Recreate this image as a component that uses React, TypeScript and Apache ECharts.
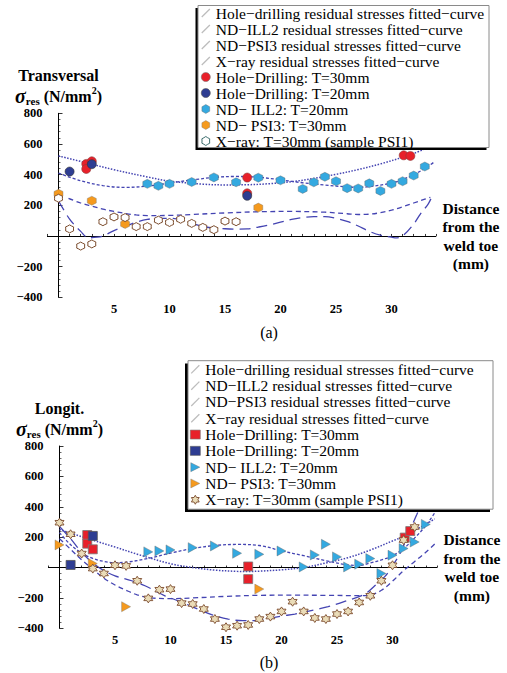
import React, { useEffect, useRef } from 'react';
import * as echarts from 'echarts';

const SERIF = 'Liberation Serif';
const CURVE = '#4444b2';
const RED = '#e8202a';
const NAVY = '#2e3d92';
const CYAN = '#34a9e0';
const ORANGE = '#f59a1e';
const BROWN = '#7a4a2a';
const STARFILL = '#eadcb8';

const N_HD_FIT = 'Hole−drilling residual stresses fitted−curve';
const N_ILL2_FIT = 'ND−ILL2 residual stresses fitted−curve';
const N_PSI3_FIT = 'ND−PSI3 residual stresses fitted−curve';
const N_XRAY_FIT = 'X−ray residual stresses fitted−curve';
const N_HD30 = 'Hole−Drilling: T=30mm';
const N_HD20 = 'Hole−Drilling: T=20mm';
const N_ILL2 = 'ND− ILL2: T=20mm';
const N_PSI3 = 'ND− PSI3: T=30mm';
const N_XRAY = 'X−ray: T=30mm (sample PSI1)';

// tick labels
const xTickLabels = [5, 10, 15, 20, 25, 30];
const yTickLabels = [-400, -200, 200, 400, 600, 800];

// ---------- (a) Transversal ----------
const hdTop30 = [[2.5, 470], [2.5, 437], [3, 487], [17, 381], [17, 278], [31.1, 526], [31.7, 522]];
const hdTop20 = [[1, 420], [3, 468], [17, 262]];
const ill2TopX = [8, 9, 10, 12, 14, 16, 18, 20, 22, 23, 24, 25, 26, 27, 28, 29, 30, 31, 32, 33];
const ill2TopY = [340, 327, 340, 352, 382, 350, 380, 363, 307, 350, 386, 357, 312, 310, 343, 294, 340, 357, 394, 453];
const psi3Top = [[0, 275], [3, 230], [6, 78], [18, 185]];
const xrayTopX = [0, 1, 2, 3, 4, 5, 6, 7, 8, 9, 10, 11, 12, 13, 14, 15, 16];
const xrayTopY = [246, 46, -66, -52, 93, 124, 120, 61, 61, 103, 88, 109, 82, 56, 41, 97, 93];

const hdFitTop = [[0, 522], [3, 468], [5, 432], [8, 385], [10, 358], [13, 338], [15, 333], [17, 334], [19, 341], [21, 354], [23, 375], [25, 402], [27, 433], [29, 470], [31, 513], [32, 538], [33, 568]];
const ill2FitTop = [[0, 410], [2, 360], [4, 328], [6, 317], [8, 325], [10, 345], [12, 365], [14, 382], [16, 388], [18, 383], [20, 366], [22, 347], [24, 332], [26, 320], [27, 317], [28, 322], [30, 345], [31, 368], [32, 400], [33, 440], [33.8, 480]];
const psi3FitTop = [[0.9, 245], [2, 215], [3, 195], [4, 175], [5, 160], [6, 147], [7, 137], [8, 133], [10, 134], [12, 140], [15, 150], [18, 158], [21, 160], [24, 155], [26, 145], [27, 140], [28, 142], [29, 152], [30, 168], [31, 190], [32, 215], [33, 240], [33.5, 252]];
const xrayFitTop = [[0, 230], [1, 110], [2, 30], [2.7, -12], [3.5, -8], [4, 0], [5, 35], [6, 62], [7, 90], [8, 108], [9, 115], [10, 115], [11, 106], [12, 82], [13, 62], [14, 52], [15, 47], [16, 45], [17, 46], [18, 58], [19, 72], [20, 90], [21, 108], [22, 120], [23, 126], [24, 126], [25, 115], [26, 95], [27, 65], [28, 30], [29, 5], [30, -8], [30.5, -12], [31, 0], [32, 78], [32.6, 143], [33.3, 208], [33.6, 250]];

// ---------- (b) Longitudinal ----------
const hdBot30 = [[2.5, 214], [2.5, 157], [3, 120], [17, 7], [17, -76], [31.1, 197], [31.6, 240]];
const hdBot20 = [[1, 17], [3, 208]];
const ill2BotX = [8, 9, 10, 12, 14, 16, 18, 20, 22, 23, 24, 25, 26, 27, 28, 29, 30, 31, 32, 33];
const ill2BotY = [103, 109, 116, 131, 142, 94, 87, 109, 4, 83, 153, 70, 4, 22, 59, -39, 81, 125, 168, 284];
const psi3Bot = [[0, 149], [3, 26], [6, -258], [18, -142]];
const xrayBotX = [0, 1, 2, 3, 4, 5, 6, 7, 8, 9, 10, 11, 12, 13, 14, 15, 16, 17, 18, 19, 20, 21, 22, 23, 24, 25, 26, 27, 28, 29, 30, 31, 32];
const xrayBotY = [295, 219, 92, -7, -39, 15, 11, -87, -203, -146, -142, -234, -240, -273, -339, -393, -383, -378, -339, -323, -289, -225, -289, -332, -339, -306, -289, -230, -186, -87, 15, 181, 267];

const hdFitBot = [[0, 250], [3, 180], [5, 135], [7, 88], [10, 25], [12, 0], [14, -17], [16, -25], [17, -26], [18, -24], [20, -15], [22, 0], [24, 30], [26, 65], [28, 115], [30, 175], [31, 205], [32, 245], [33, 285], [33.8, 320]];
const ill2FitBot = [[0, 230], [1, 150], [2, 95], [3, 60], [4, 40], [5, 32], [6, 35], [8, 60], [10, 95], [12, 125], [14, 145], [16, 152], [18, 145], [20, 110], [22, 78], [24, 45], [26, 17], [27, 14], [28, 30], [29, 50], [30, 78], [31, 125], [32, 195], [33, 275], [33.8, 360]];
const psi3FitBot = [[0, 190], [1, 120], [2, 50], [3, -10], [4, -70], [5, -115], [6, -150], [7, -180], [8, -198], [10, -205], [12, -200], [15, -190], [18, -183], [21, -182], [24, -183], [27, -185], [28, -180], [29, -150], [30, -90], [31, -20], [32, 40], [33, 100], [33.8, 155]];
const xrayFitBot = [[0, 270], [1, 190], [2, 100], [3, 30], [4, -20], [5, -55], [6.5, -87], [7.7, -120], [9.5, -186], [10.7, -219], [12.2, -265], [13.7, -310], [15.2, -339], [16.5, -350], [17.6, -350], [18.5, -340], [20, -320], [21.2, -306], [23.3, -273], [24.2, -258], [25.7, -223], [27.5, -175], [28.4, -120], [29.3, -60], [29.9, 0], [30.8, 109], [31.4, 219], [32.2, 350], [32.6, 420]];

const zip = (xs: number[], ys: number[]) => xs.map((x, i) => [x, ys[i]]);

const hexPath = 'path://M5,0L9.33,2.5L9.33,7.5L5,10L0.67,7.5L0.67,2.5Z';
const gearPath = 'path://M5,0L7.1,1.36L9.33,2.5L9.2,5L9.33,7.5L7.1,8.64L5,10L2.9,8.64L0.67,7.5L0.8,5L0.67,2.5L2.9,1.36Z';
const starPath = 'path://M5,0L6.44,2.5L9.33,2.5L7.89,5L9.33,7.5L6.44,7.5L5,10L3.56,7.5L0.67,7.5L2.11,5L0.67,2.5L3.56,2.5Z';
const triPath = 'path://M0,0L10,5L0,10Z';
const curveIcon = 'path://M0,9L9,0L10,1L1,10Z';

const DASH_HD = [1.5, 1.5];
const DASH_ILL2 = [3, 2];
const DASH_PSI3 = [5, 3.5];
const DASH_XRAY = [11, 6];

function fit(name: string, data: number[][], dash: number[], width: number, g: number) {
  return {
    type: 'line', name, data, xAxisIndex: g, yAxisIndex: g,
    smooth: 0.35, symbol: 'none', showSymbol: false, silent: true,
    lineStyle: { color: CURVE, width, type: dash },
    itemStyle: { color: CURVE }, z: 2,
  };
}

function pts(name: string, data: number[][], symbol: string, size: any, color: string, border: string, bw: number, g: number) {
  return {
    type: 'scatter', name, data, xAxisIndex: g, yAxisIndex: g,
    symbol, symbolSize: size,
    itemStyle: { color, borderColor: border, borderWidth: bw, opacity: 1 }, z: 3,
  };
}

function xAx(g: number) {
  return {
    type: 'value', gridIndex: g, min: -1, max: 34, interval: 1,
    name: 'Distance\nfrom the\nweld toe\n(mm)', nameLocation: 'end', nameGap: 35,
    nameTextStyle: { fontFamily: SERIF, fontWeight: 'bold', fontSize: 15.5, lineHeight: 18.5, color: '#000', align: 'center', verticalAlign: 'middle' },
    axisLine: { onZero: true, lineStyle: { color: '#000', width: 1 } },
    axisTick: { show: true, inside: true, length: 2, lineStyle: { color: '#000', width: 0.8 } },
    axisLabel: {
      margin: 5, fontFamily: SERIF, fontWeight: 'bold', fontSize: 12.5, color: '#000',
      formatter: (v: number) => (xTickLabels.indexOf(v) >= 0 ? String(v) : ''),
    },
    splitLine: { show: false },
  };
}

function yAx(g: number, title: string) {
  return {
    type: 'value', gridIndex: g, min: -400, max: 800, interval: 200,
    name: `{t|${title}}\n{s|σ}{r|res}{u| (N/mm}{p|2}{u|)}`, nameLocation: 'end', nameGap: 6,
    nameTextStyle: {
      color: '#000', align: 'center', fontFamily: SERIF,
      rich: {
        t: { fontFamily: SERIF, fontWeight: 'bold', fontSize: 16, lineHeight: 21, color: '#000' },
        s: { fontFamily: SERIF, fontWeight: 'bold', fontStyle: 'italic', fontSize: 20, lineHeight: 21, color: '#000' },
        r: { fontFamily: SERIF, fontWeight: 'bold', fontSize: 11, lineHeight: 21, color: '#000', verticalAlign: 'bottom' },
        u: { fontFamily: SERIF, fontWeight: 'bold', fontSize: 16, lineHeight: 21, color: '#000' },
        p: { fontFamily: SERIF, fontWeight: 'bold', fontSize: 10, lineHeight: 21, color: '#000', verticalAlign: 'top' },
      },
    },
    axisLine: { onZero: true, lineStyle: { color: '#000', width: 1 } },
    axisTick: { show: true, inside: true, length: 4, lineStyle: { color: '#000', width: 0.8 } },
    minorTick: { show: true, splitNumber: 5, length: 2, lineStyle: { color: '#000', width: 0.6 } },
    axisLabel: {
      margin: 5, fontFamily: SERIF, fontWeight: 'bold', fontSize: 12.5, color: '#000',
      formatter: (v: number) => (yTickLabels.indexOf(v) >= 0 ? String(v).replace('-', '−') : ''),
    },
    splitLine: { show: false },
    minorSplitLine: { show: false },
  };
}

const fitIconStyle = { color: '#bdbdbd', borderWidth: 0 };

function legendData(bottom: boolean) {
  return [
    { name: N_HD_FIT, icon: curveIcon, itemStyle: fitIconStyle },
    { name: N_ILL2_FIT, icon: curveIcon, itemStyle: fitIconStyle },
    { name: N_PSI3_FIT, icon: curveIcon, itemStyle: fitIconStyle },
    { name: N_XRAY_FIT, icon: curveIcon, itemStyle: fitIconStyle },
    { name: N_HD30, icon: bottom ? 'rect' : 'circle', itemStyle: { color: RED, borderColor: '#777', borderWidth: 0.6 } },
    { name: N_HD20, icon: bottom ? 'rect' : 'circle', itemStyle: { color: NAVY, borderColor: '#555', borderWidth: 0.6 } },
    { name: N_ILL2, icon: bottom ? triPath : hexPath, itemStyle: { color: CYAN, borderColor: '#666', borderWidth: 0.4 } },
    { name: N_PSI3, icon: bottom ? triPath : hexPath, itemStyle: { color: ORANGE, borderColor: '#777', borderWidth: 0.4 } },
    bottom
      ? { name: N_XRAY, icon: starPath, itemStyle: { color: STARFILL, borderColor: BROWN, borderWidth: 0.9 } }
      : { name: N_XRAY, icon: gearPath, itemStyle: { color: '#fff', borderColor: '#3d6e6e', borderWidth: 1 } },
  ];
}

export default function App() {
  const ref = useRef<HTMLDivElement>(null);
  useEffect(() => {
    if (!ref.current) return;
    const chart = echarts.init(ref.current, null, { renderer: 'svg' });
    const option: any = {
      animation: false,
      backgroundColor: '#fff',
      textStyle: { fontFamily: SERIF },
      grid: [
        { left: 47.4, width: 388.5, top: 113.3, height: 184 },
        { left: 48.4, width: 388.5, top: 446, height: 182.3 },
      ],
      xAxis: [xAx(0), xAx(1)],
      yAxis: [yAx(0, 'Transversal'), yAx(1, 'Longit.')],
      legend: [
        {
          orient: 'vertical', left: 201, top: 5, padding: 0, itemGap: 0, itemWidth: 10, itemHeight: 9,
          selectedMode: false, z: 10,
          textStyle: { fontFamily: SERIF, fontSize: 15.5, lineHeight: 15.4, color: '#000' },
          data: legendData(false),
        },
        {
          orient: 'vertical', left: 190, top: 361.2, padding: 0, itemGap: 0, itemWidth: 10, itemHeight: 9,
          selectedMode: false, z: 10,
          textStyle: { fontFamily: SERIF, fontSize: 15.5, lineHeight: 16.3, color: '#000' },
          data: legendData(true),
        },
      ],
      graphic: [
        { type: 'rect', z: 5, silent: true, shape: { x: 195.5, y: 8, width: 291, height: 142 }, style: { fill: '#000' } },
        { type: 'rect', z: 6, silent: true, shape: { x: 198, y: 5.5, width: 291, height: 142 }, style: { fill: '#fff', stroke: '#8a8a8a', lineWidth: 1 } },
        { type: 'rect', z: 5, silent: true, shape: { x: 185, y: 363.5, width: 305, height: 148.5 }, style: { fill: '#000' } },
        { type: 'rect', z: 6, silent: true, shape: { x: 188, y: 360.7, width: 305, height: 148.5 }, style: { fill: '#fff', stroke: '#8a8a8a', lineWidth: 1 } },
        { type: 'text', z: 6, x: 269, y: 332, style: { text: '(a)', fontFamily: SERIF, fontSize: 16, fill: '#000', align: 'center', verticalAlign: 'middle' } },
        { type: 'text', z: 6, x: 269, y: 662, style: { text: '(b)', fontFamily: SERIF, fontSize: 16, fill: '#000', align: 'center', verticalAlign: 'middle' } },
      ],
      series: [
        fit(N_HD_FIT, hdFitTop, DASH_HD, 1.5, 0),
        fit(N_ILL2_FIT, ill2FitTop, DASH_ILL2, 1.3, 0),
        fit(N_PSI3_FIT, psi3FitTop, DASH_PSI3, 1.3, 0),
        fit(N_XRAY_FIT, xrayFitTop, DASH_XRAY, 1.3, 0),
        pts(N_HD30, hdTop30, 'circle', 9, RED, '#8a3a3a', 0.6, 0),
        pts(N_HD20, hdTop20, 'circle', 9, NAVY, '#333', 0.6, 0),
        pts(N_ILL2, zip(ill2TopX, ill2TopY), hexPath, 9, CYAN, '#666', 0.4, 0),
        pts(N_PSI3, psi3Top, hexPath, 9, ORANGE, '#777', 0.4, 0),
        pts(N_XRAY, zip(xrayTopX, xrayTopY), gearPath, 8, '#fff', BROWN, 1, 0),

        fit(N_HD_FIT, hdFitBot, DASH_HD, 1.5, 1),
        fit(N_ILL2_FIT, ill2FitBot, DASH_ILL2, 1.3, 1),
        fit(N_PSI3_FIT, psi3FitBot, DASH_PSI3, 1.3, 1),
        fit(N_XRAY_FIT, xrayFitBot, DASH_XRAY, 1.3, 1),
        pts(N_HD30, hdBot30, 'rect', 9, RED, '#777', 0.8, 1),
        pts(N_HD20, hdBot20, 'rect', 9, NAVY, '#555', 0.8, 1),
        pts(N_ILL2, zip(ill2BotX, ill2BotY), triPath, [9, 10], CYAN, '#666', 0.4, 1),
        pts(N_PSI3, psi3Bot, triPath, [9, 10], ORANGE, '#777', 0.4, 1),
        pts(N_XRAY, zip(xrayBotX, xrayBotY), starPath, 9, STARFILL, BROWN, 0.9, 1),
      ],
    };
    chart.setOption(option);
    return () => chart.dispose();
  }, []);
  return <div ref={ref} style={{ position: 'absolute', left: 0, top: 0, width: 507, height: 673 }} />;
}
